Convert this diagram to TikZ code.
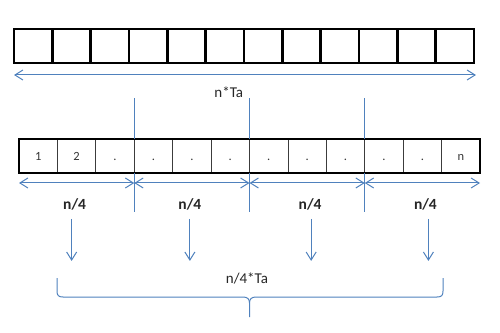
\documentclass[tikz,border=0pt]{standalone}
\usepackage{fontspec}
\setmainfont{Carlito}
\usepackage{tikz}
\usetikzlibrary{arrows.meta, positioning, calc}

\definecolor{lineblue}{RGB}{79,129,189}
\definecolor{cellgray}{RGB}{60,60,60}

\begin{document}
\begin{tikzpicture}[x=1pt, y=1pt, >={Straight Barb[length=8pt, width=10pt]}, node distance=0pt,
    topcell/.style={draw, line width=2.6pt, minimum width=38.33pt, minimum height=34pt, inner sep=0pt, outer sep=0pt},
    cell/.style={draw=cellgray, line width=0.8pt, minimum width=38.42pt, minimum height=34pt, inner sep=0pt, outer sep=0pt, text height=8.5pt, text depth=0pt, font=\fontsize{12.5}{14}\selectfont, text=black!80},
    blueline/.style={draw=lineblue, line width=1pt},
    lbl/.style={font=\fontsize{15}{18}\selectfont, text=black!85},
    quarter/.style={font=\fontsize{15.5}{18}\selectfont\bfseries, text=black!85}]
    \useasboundingbox (0,0) rectangle (500,332);

    % 上方数组：12 个空格子，粗边框，依次向右紧贴排列
    \node[topcell] (t1) at (33.17,286) {};
    \node[topcell] (t2) [right=of t1] {};
    \node[topcell] (t3) [right=of t2] {};
    \node[topcell] (t4) [right=of t3] {};
    \node[topcell] (t5) [right=of t4] {};
    \node[topcell] (t6) [right=of t5] {};
    \node[topcell] (t7) [right=of t6] {};
    \node[topcell] (t8) [right=of t7] {};
    \node[topcell] (t9) [right=of t8] {};
    \node[topcell] (t10) [right=of t9] {};
    \node[topcell] (t11) [right=of t10] {};
    \node[topcell] (t12) [right=of t11] {};

    % 整个数组长度的双向箭头，标签放在箭头下方
    \draw[blueline, <->] ([yshift=-12pt]t1.south west) -- node[lbl, pos=0.465, below=7.7pt] (ntotal) {n*Ta} ([xshift=2pt, yshift=-12pt]t12.south east);

    % 下方数组：细线格子，内部写编号
    \node[cell] (b1) at (38.21,176) {1};
    \node[cell] (b2) [right=of b1] {2};
    \node[cell] (b3) [right=of b2] {.};
    \node[cell] (b4) [right=of b3] {.};
    \node[cell] (b5) [right=of b4] {.};
    \node[cell] (b6) [right=of b5] {.};
    \node[cell] (b7) [right=of b6] {.};
    \node[cell] (b8) [right=of b7] {.};
    \node[cell] (b9) [right=of b8] {.};
    \node[cell] (b10) [right=of b9] {.};
    \node[cell] (b11) [right=of b10] {.};
    \node[cell] (b12) [right=of b11] {n};
    \draw[line width=2.6pt] (b1.north west) rectangle (b12.south east);

    % 分段竖线（数组上下各一段，不压在格子上）
    \draw[blueline] (b3.north east) -- ($(b3.north east)+(0,41)$);
    \draw[blueline] (b3.south east) -- ($(b3.south east)+(0,-39)$);
    \draw[blueline] (b6.north east) -- ($(b6.north east)+(0,41)$);
    \draw[blueline] (b6.south east) -- ($(b6.south east)+(0,-39)$);
    \draw[blueline] (b9.north east) -- ($(b9.north east)+(0,41)$);
    \draw[blueline] (b9.south east) -- ($(b9.south east)+(0,-39)$);

    % 每一段的双向箭头及 n/4 标签
    \draw[blueline, <->] ([yshift=-10pt]b1.south west) -- node[quarter, midway, below=11.7pt, xshift=-2pt] (q1) {n/4} ([yshift=-10pt]b3.south east);
    \draw[blueline, <->] ([yshift=-10pt]b4.south west) -- node[quarter, midway, below=11.7pt, xshift=-2pt] (q2) {n/4} ([yshift=-10pt]b6.south east);
    \draw[blueline, <->] ([yshift=-10pt]b7.south west) -- node[quarter, midway, below=11.7pt, xshift=3pt] (q3) {n/4} ([yshift=-10pt]b9.south east);
    \draw[blueline, <->] ([yshift=-10pt]b10.south west) -- node[quarter, midway, below=11.7pt, xshift=3pt] (q4) {n/4} ([yshift=-10pt]b12.south east);

    % 向下的箭头
    \draw[blueline, ->] ([xshift=-3pt, yshift=-5pt]q1.south) -- ++(0,-42);
    \draw[blueline, ->] ([yshift=-5pt]q2.south) -- ++(0,-42);
    \draw[blueline, ->] ([xshift=1pt, yshift=-5pt]q3.south) -- ++(0,-42);
    \draw[blueline, ->] ([xshift=3pt, yshift=-5pt]q4.south) -- ++(0,-42);

    % 底部大括号及总时间标签
    \node[lbl] (qtotal) at (247,54) {n/4*Ta};
    \draw[blueline] (57,54) -- (57,41) .. controls (57,36.5) and (58.5,35) .. (63,35) -- (243,35) .. controls (247.5,35) and (249.5,33) .. (249.5,29) -- (249.5,15);
    \draw[blueline] (443,54) -- (443,41) .. controls (443,36.5) and (441.5,35) .. (437,35) -- (256,35) .. controls (251.5,35) and (249.5,33) .. (249.5,29);
\end{tikzpicture}
\end{document}
